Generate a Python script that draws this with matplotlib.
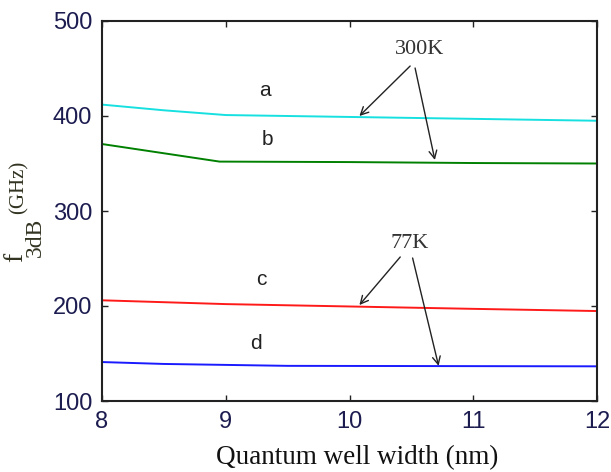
import matplotlib
matplotlib.use("Agg")
import matplotlib.pyplot as plt

# Data
x_a = [8.0, 8.5, 9.0, 10.0, 11.0, 12.0]
y_a = [412.0, 406.0, 401.0, 399.0, 397.0, 395.0]
x_b = [8.0, 8.95, 10.0, 11.0, 12.0]
y_b = [370.5, 352.0, 351.5, 350.5, 350.0]
x_c = [8.0, 9.0, 10.0, 11.0, 12.0]
y_c = [206.0, 202.0, 199.5, 197.0, 194.7]
x_d = [8.0, 8.5, 9.5, 12.0]
y_d = [141.0, 139.0, 137.0, 136.5]

curve_labels = ["a", "b", "c", "d"]
label_pos = [(9.32, 427), (9.34, 375), (9.29, 228), (9.24, 161)]

xticks = [8, 9, 10, 11, 12]
yticks = [100, 200, 300, 400, 500]

W, H = 611, 472
fig = plt.figure(figsize=(W / 100, H / 100), dpi=100)
ax = fig.add_axes([102 / W, 1 - 401 / H, 495 / W, 380 / H])

lw = 1.4
ax.plot(x_a, y_a, color="#17e0e0", lw=lw)
ax.plot(x_b, y_b, color="#008000", lw=lw)
ax.plot(x_c, y_c, color="#ff1a1a", lw=lw)
ax.plot(x_d, y_d, color="#1a1aff", lw=lw)

for lab, (lx, ly) in zip(curve_labels, label_pos):
    ax.text(lx, ly, lab, fontsize=15, ha="center", va="center",
            family="Liberation Sans", color="#222222")

ax.set_xlim(8, 12)
ax.set_ylim(100, 500)
ax.set_xticks(xticks)
ax.set_yticks(yticks)
ax.tick_params(direction="in", length=4, width=1, top=True, right=True,
               labelsize=17, colors="#222222", pad=7)
for lab in ax.get_xticklabels() + ax.get_yticklabels():
    lab.set_family("Liberation Sans")
    lab.set_color("#1c1c50")
for s in ax.spines.values():
    s.set_linewidth(1.5)
    s.set_color("#222222")

# Annotations
arrow_kw = dict(arrowstyle="->", color="#222222", lw=1.0,
                shrinkA=0, shrinkB=0, mutation_scale=14)
ax.text(10.57, 469.5, "300K", fontsize=16, family="Liberation Serif",
        ha="center", va="center", color="#333333")
ax.annotate("", xy=(10.08, 400), xytext=(10.49, 452.6), arrowprops=arrow_kw)
ax.annotate("", xy=(10.69, 353.7), xytext=(10.53, 450.5), arrowprops=arrow_kw)

ax.text(10.49, 266, "77K", fontsize=16, family="Liberation Serif",
        ha="center", va="center", color="#333333")
ax.annotate("", xy=(10.08, 201), xytext=(10.41, 251.6), arrowprops=arrow_kw)
ax.annotate("", xy=(10.72, 137), xytext=(10.51, 250.5), arrowprops=arrow_kw)

# Axis labels
fig.text(357 / W, 1 - 458 / H, "Quantum well width (nm)", fontsize=19.5,
         family="Liberation Serif", ha="center", va="center", color="#111111")
fig.text(15.5 / W, 1 - 257.5 / H, "f", fontsize=20, family="Liberation Serif",
         rotation=90, ha="center", va="center", color="#333322")
fig.text(35.5 / W, 1 - 237.5 / H, "3dB", fontsize=17, family="Liberation Serif",
         rotation=90, ha="center", va="center", color="#333322")
fig.text(19 / W, 1 - 187.5 / H, "(GHz)", fontsize=15, family="Liberation Serif",
         rotation=90, ha="center", va="center", color="#333322")

fig.savefig("out.png", dpi=100)
